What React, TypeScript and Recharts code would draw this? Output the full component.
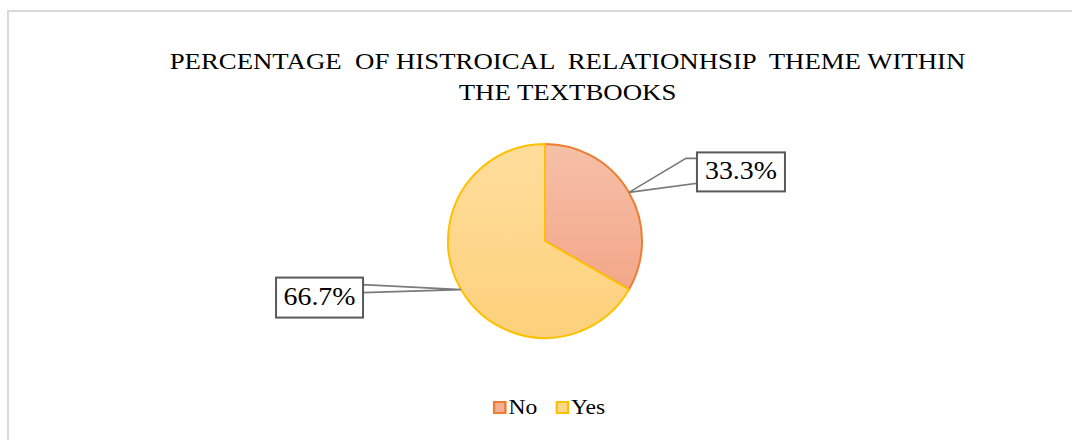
import { PieChart, Pie, Cell, Legend } from "recharts";

const categories = ["No", "Yes"];
const shares = [33.3, 66.7];
const labels = ["33.3%", "66.7%"];

const fills = ["url(#gradNo)", "url(#gradYes)"];
const strokes = ["#ED7D31", "#FFC000"];
const swatch = ["#F4B094", "#FED78A"];

const data = categories.map((name, i) => ({ name, value: shares[i] }));

const RADIAN = Math.PI / 180;
const serif = '"Liberation Serif", "Times New Roman", serif';

function CalloutLabel(props: any) {
  const { cx, cy, midAngle, outerRadius, index } = props;
  const ax = cx + outerRadius * Math.cos(-midAngle * RADIAN);
  const ay = cy + outerRadius * Math.sin(-midAngle * RADIAN);
  const right = ax > cx;

  // box + wedge offsets relative to anchor
  const bw = right ? 88 : 87;
  const bh = right ? 39 : 40;
  const bx = right ? ax + 68 : ax - 185;
  const by = right ? ay - 40 : ay - 12;
  const edge = right ? bx : bx + bw;
  const wedge = right
    ? `${ax},${ay} ${edge - 11},${by + 6} ${edge},${by + 6} ${edge},${by + 31}`
    : `${ax},${ay} ${edge},${by + 7} ${edge},${by + 15}`;

  return (
    <g>
      <polygon points={wedge} fill="#fff" stroke="#7a7a7a" strokeWidth={1.6} />
      <rect x={bx} y={by} width={bw} height={bh} fill="#fff" stroke="#595959" strokeWidth={2} />
      <text
        x={bx + bw / 2}
        y={by + bh / 2 + 1}
        textAnchor="middle"
        dominantBaseline="middle"
        fontFamily={serif}
        fontSize={26}
        textLength={72}
        lengthAdjust="spacingAndGlyphs"
        fill="#000"
      >
        {labels[index]}
      </text>
    </g>
  );
}

function LegendContent() {
  return (
    <div
      style={{
        display: "flex",
        justifyContent: "center",
        gap: 16,
        fontFamily: serif,
        fontSize: 21,
        color: "#000",
        transform: "scaleX(1.12)",
        transformOrigin: "549px 0",
      }}
    >
      {categories.map((c, i) => (
        <span key={c} style={{ display: "flex", alignItems: "center" }}>
          <span
            style={{
              width: 8,
              height: 9,
              background: swatch[i],
              border: `2px solid ${strokes[i]}`,
              marginRight: 2,
              display: "inline-block",
            }}
          />
          {c}
        </span>
      ))}
    </div>
  );
}

export default function App() {
  return (
    <div style={{ position: "absolute", left: 0, top: 0, width: 1072, height: 440, background: "#fff", overflow: "hidden" }}>
      <svg width={0} height={0} style={{ position: "absolute" }}>
        <defs>
          <linearGradient id="gradNo" gradientUnits="userSpaceOnUse" x1={0} y1={144} x2={0} y2={338}>
            <stop offset="0%" stopColor="#F6C0A8" />
            <stop offset="100%" stopColor="#F29E7E" />
          </linearGradient>
          <linearGradient id="gradYes" gradientUnits="userSpaceOnUse" x1={0} y1={144} x2={0} y2={338}>
            <stop offset="0%" stopColor="#FEDD9C" />
            <stop offset="100%" stopColor="#FDD17B" />
          </linearGradient>
        </defs>
      </svg>
      <div
        style={{
          position: "absolute",
          left: 7,
          top: 10,
          width: 1100,
          height: 500,
          borderLeft: "2px solid #D9D9D9",
          borderTop: "2px solid #D9D9D9",
        }}
      />
      <div
        style={{
          position: "absolute",
          left: 0,
          width: 1135,
          top: 46,
          textAlign: "center",
          fontFamily: serif,
          fontSize: 23,
          lineHeight: "31px",
          whiteSpace: "pre",
          color: "#000",
          transform: "scaleX(1.165)",
          transformOrigin: "567.5px 0",
        }}
      >
        {"PERCENTAGE  OF HISTROICAL  RELATIONHSIP  THEME WITHIN\nTHE TEXTBOOKS"}
      </div>
      <div style={{ position: "absolute", left: 0, top: 0 }}>
        <PieChart width={1072} height={440}>
          <Pie
            data={data}
            dataKey="value"
            nameKey="name"
            cx={540}
            cy={236}
            outerRadius={97}
            startAngle={90}
            endAngle={-270}
            label={CalloutLabel}
            labelLine={false}
            isAnimationActive={false}
          >
            {data.map((d, i) => (
              <Cell key={d.name} fill={fills[i]} stroke={strokes[i]} strokeWidth={2} />
            ))}
          </Pie>
          <Legend
            content={LegendContent}
            verticalAlign="bottom"
            wrapperStyle={{ left: 0, width: 1098, top: 395 }}
          />
        </PieChart>
      </div>
    </div>
  );
}
